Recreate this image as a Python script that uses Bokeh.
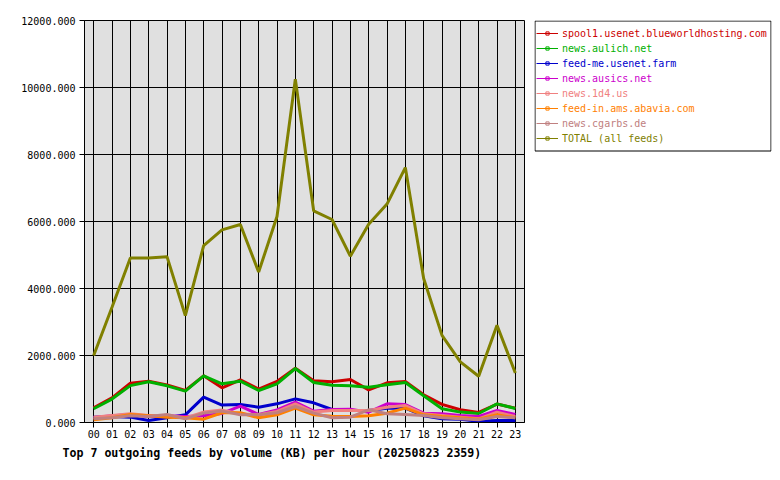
from bokeh.plotting import figure
from bokeh.models import (FixedTicker, PrintfTickFormatter, Range1d, Legend, LegendItem, BoxAnnotation)
from bokeh.layouts import row
from bokeh.embed import file_html
from bokeh.resources import INLINE

hours = ["00", "01", "02", "03", "04", "05", "06", "07", "08", "09", "10", "11",
         "12", "13", "14", "15", "16", "17", "18", "19", "20", "21", "22", "23"]

feed_names = ["spool1.usenet.blueworldhosting.com", "news.aulich.net", "feed-me.usenet.farm",
              "news.ausics.net", "news.1d4.us", "feed-in.ams.abavia.com", "news.cgarbs.de",
              "TOTAL (all feeds)"]
feed_colors = ["#cc0000", "#00b000", "#0000cc", "#cc00cc", "#f08080", "#ff8000", "#c08080", "#808000"]

spool1 = [440, 736, 1174, 1234, 1124, 955, 1393, 1035, 1274, 995, 1224, 1622,
          1244, 1214, 1284, 975, 1184, 1224, 826, 540, 380, 300, 550, 430]
aulich = [410, 700, 1100, 1214, 1095, 935, 1393, 1154, 1234, 955, 1154, 1612,
          1194, 1114, 1095, 1055, 1124, 1194, 800, 410, 310, 270, 557, 418]
feedme = [160, 180, 160, 60, 140, 230, 756, 520, 537, 458, 557, 706,
          587, 388, 358, 358, 428, 428, 200, 110, 100, 40, 60, 60]
ausics = [150, 200, 230, 180, 200, 180, 200, 270, 490, 240, 378, 607,
          338, 388, 398, 308, 557, 537, 279, 259, 209, 179, 358, 239]
n1d4 = [160, 210, 260, 210, 210, 140, 310, 370, 260, 230, 330, 557,
        310, 360, 360, 360, 458, 507, 260, 210, 160, 110, 310, 180]
abavia = [80, 140, 240, 200, 160, 140, 100, 290, 290, 140, 230, 428,
          230, 190, 180, 200, 279, 428, 229, 179, 139, 100, 229, 139]
cgarbs = [110, 140, 200, 180, 240, 110, 280, 340, 230, 230, 290, 478,
          280, 140, 160, 378, 259, 239, 209, 140, 110, 80, 179, 139]
total = [2000, 3440, 4910, 4910, 4950, 3190, 5280, 5750, 5910, 4490, 6150, 10250,
         6320, 6060, 4965, 5920, 6520, 7610, 4300, 2600, 1810, 1380, 2905, 1480]

series = [spool1, aulich, feedme, ausics, n1d4, abavia, cgarbs, total]
y_ticks = [0, 2000, 4000, 6000, 8000, 10000, 12000]

MONO = "DejaVu Sans Mono"
x = list(range(len(hours)))

H = 480
TOP, BOTTOM = 20, 58
FRAME_H = H - TOP - BOTTOM

# ---------------- main chart ----------------
p = figure(width=525, height=H, output_backend="svg", toolbar_location=None,
           x_range=Range1d(-0.5, len(hours) - 0.5), y_range=Range1d(0, 12000),
           min_border_left=84, min_border_right=1, min_border_top=TOP, min_border_bottom=BOTTOM,
           title="Top 7 outgoing feeds by volume (KB) per hour (20250823 2359)",
           title_location="below")
p.background_fill_color = "#e0e0e0"
p.border_fill_color = "white"
p.outline_line_color = "black"
p.outline_line_width = 1

p.title.text_font = MONO
p.title.text_font_size = "11.6px"
p.title.text_font_style = "bold"
p.title.align = "left"
p.title.offset = -22
p.title.standoff = 7
p.title.text_color = "black"

p.xaxis.ticker = FixedTicker(ticks=x)
p.xaxis.major_label_overrides = {i: h for i, h in enumerate(hours)}
p.yaxis.ticker = FixedTicker(ticks=y_ticks)
p.yaxis.formatter = PrintfTickFormatter(format="%.3f")
for ax in (p.xaxis, p.yaxis):
    ax.major_label_text_font = MONO
    ax.major_label_text_font_size = "10px"
    ax.major_label_text_color = "black"
    ax.major_tick_out = 5
    ax.major_tick_in = 0
    ax.minor_tick_line_color = None
    ax.axis_line_color = "black"
    ax.major_tick_line_color = "black"
p.xaxis.major_label_standoff = 2
p.yaxis.major_label_standoff = 4

p.xgrid.ticker = FixedTicker(ticks=x)
p.ygrid.ticker = FixedTicker(ticks=y_ticks)
for g in (p.xgrid, p.ygrid):
    g.grid_line_color = "black"
    g.grid_line_alpha = 1
    g.grid_line_width = 1

for vals, col in zip(series, feed_colors):
    p.line(x, vals, line_color=col, line_width=3)

# ---------------- legend panel ----------------
LG_W = 255
lg = figure(width=LG_W, height=H, output_backend="svg", toolbar_location=None,
            x_range=Range1d(0, LG_W - 18), y_range=Range1d(0, FRAME_H),
            x_axis_type=None, y_axis_type=None,
            min_border_left=9, min_border_right=9, min_border_top=TOP, min_border_bottom=BOTTOM)
lg.grid.visible = False
lg.outline_line_color = None
lg.background_fill_color = "white"
lg.border_fill_color = "white"

BOX_H = 130.5
lg.add_layout(BoxAnnotation(left=0.5, right=LG_W - 18 - 0.5, top=FRAME_H - 0.5, bottom=FRAME_H - BOX_H,
                            fill_color="white", fill_alpha=1,
                            line_color="black", line_width=1, line_alpha=1))

ROW_H = 15
for i, (name, col, vals) in enumerate(zip(feed_names, feed_colors, series)):
    lr = lg.line(x, vals, line_color=col, line_width=1, visible=False)
    sr = lg.scatter(x, vals, marker="square", line_color=col, fill_color=None,
                    line_width=1, visible=False)
    leg = Legend(items=[LegendItem(label=name, renderers=[lr, sr])],
                 location=(2, FRAME_H - 5.8 - ROW_H * (i + 1)), orientation="vertical",
                 border_line_color=None, background_fill_alpha=0, click_policy="none",
                 inactive_fill_alpha=0,
                 padding=0, margin=0, spacing=0,
                 glyph_width=22, glyph_height=8, label_height=ROW_H, label_standoff=4,
                 label_text_font=MONO, label_text_font_size="10px", label_text_color=col)
    lg.add_layout(leg, "center")

layout = row(p, lg)
open("out.html", "w").write(file_html(layout, INLINE))
